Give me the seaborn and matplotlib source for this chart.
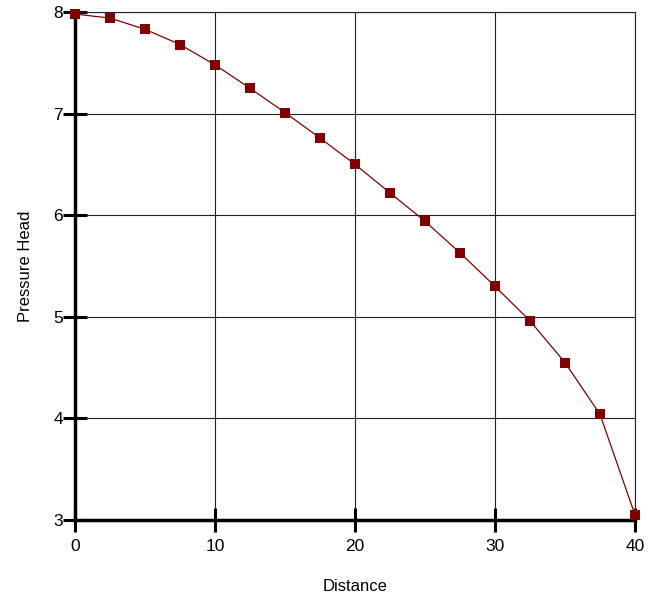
import matplotlib
matplotlib.use("Agg")
import matplotlib.pyplot as plt
import seaborn as sns
import pandas as pd

distance = [0, 2.5, 5, 7.5, 10, 12.5, 15, 17.5, 20, 22.5, 25, 27.5, 30, 32.5, 35, 37.5, 40]
pressure_head = [7.98, 7.94, 7.83, 7.68, 7.48, 7.25, 7.01, 6.76, 6.50, 6.22, 5.94,
                 5.63, 5.30, 4.96, 4.55, 4.04, 3.05]

df = pd.DataFrame({"Distance": distance, "Pressure Head": pressure_head})

sns.set_style("white")
plt.rcParams["font.family"] = ["Liberation Sans", "DejaVu Sans"]
plt.rcParams["text.color"] = "black"
plt.rcParams["axes.labelcolor"] = "black"
plt.rcParams["xtick.color"] = "black"
plt.rcParams["ytick.color"] = "black"

fig = plt.figure(figsize=(6.48, 6), dpi=100)
ax = fig.add_axes([75 / 648, 1 - 520 / 600, 560 / 648, 508 / 600])

sns.lineplot(data=df, x="Distance", y="Pressure Head", ax=ax, color="#800000",
             linewidth=0.9, marker="s", markersize=7, markeredgewidth=0,
             clip_on=False, zorder=3)

ax.set_xlim(0, 40)
ax.set_ylim(3, 8)
ax.set_xticks([0, 10, 20, 30, 40])
ax.set_yticks([3, 4, 5, 6, 7, 8])
ax.grid(True, color="#222222", linewidth=0.8)
ax.set_axisbelow(True)

for side in ["top", "right"]:
    ax.spines[side].set_linewidth(0.8)
    ax.spines[side].set_color("#222222")
for side in ["left", "bottom"]:
    ax.spines[side].set_linewidth(2.5)
    ax.spines[side].set_color("black")

ax.tick_params(axis="both", direction="inout", length=17, width=2.2, color="black",
               labelsize=12.5, bottom=True, left=True)
ax.tick_params(axis="x", pad=5)
ax.tick_params(axis="y", pad=0)
ax.set_xlabel("Distance", fontsize=12, labelpad=18)
ax.set_ylabel("Pressure Head", fontsize=12, labelpad=15)

fig.savefig("out.png", dpi=100)
